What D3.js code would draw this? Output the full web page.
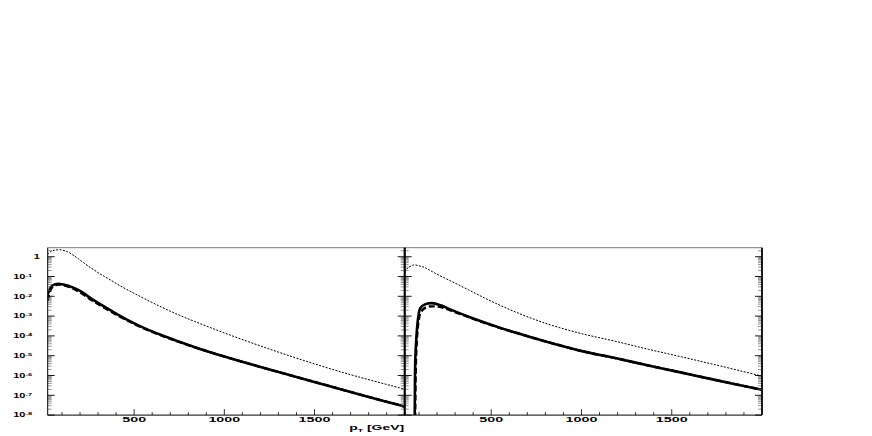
<!DOCTYPE html>
<html>
<head>
<meta charset="utf-8">
<script src="https://cdn.jsdelivr.net/npm/d3@7"></script>
<style>
  body { margin: 0; background: #fff; }
  svg { display: block; }
  text { font-family: "Liberation Sans", Arial, sans-serif; font-weight: bold; fill: #000; }
</style>
</head>
<body>
<svg id="chart" width="872" height="436"></svg>
<script>
// pT grid [GeV] and curves
const ptLeftDotted = [20, 40, 60, 90, 130, 160, 190, 250, 310, 375, 440, 500, 560, 650, 745, 835, 1000, 1185, 1370, 1555, 1740, 2000];
const leftDotted = [1.26, 1.9, 2.14, 2.24, 1.78, 1.23, 0.79, 0.316, 0.138, 0.0617, 0.0275, 0.0141, 7.4e-3, 2.9e-3, 1.17e-3, 5.4e-4, 1.41e-4, 3.47e-5, 9.3e-6, 2.7e-6, 8.7e-7, 2.04e-7];
const ptLeft = [20, 30, 40, 60, 90, 130, 190, 280, 375, 465, 560, 650, 745, 835, 1000, 1185, 1370, 1555, 1740, 2000];
const leftSolid = [0.0118, 0.02, 0.031, 0.04, 0.042, 0.035, 0.021, 6.0e-3, 1.82e-3, 6.3e-4, 2.4e-4, 1.1e-4, 5.25e-5, 2.7e-5, 9.1e-6, 2.95e-6, 1.0e-6, 3.43e-7, 1.17e-7, 2.7e-8];
const leftDashed = [6.0e-3, 0.013, 0.024, 0.036, 0.039, 0.032, 0.018, 5.2e-3, 1.6e-3, 5.8e-4, 2.25e-4, 1.05e-4, 5.15e-5, 2.7e-5, 9.1e-6, 2.95e-6, 1.0e-6, 3.43e-7, 1.17e-7, 2.7e-8];

const ptRightDotted = [20, 40, 70, 110, 140, 190, 283, 375, 467, 559, 652, 744, 836, 1002, 1186, 1371, 1555, 1740, 2000];
const rightDotted = [0.17, 0.28, 0.38, 0.33, 0.26, 0.145, 0.055, 0.021, 7.9e-3, 3.2e-3, 1.38e-3, 6.6e-4, 3.4e-4, 1.29e-4, 5.4e-5, 2.1e-5, 8.7e-6, 3.5e-6, 9.3e-7];
const ptRightSolid = [75, 77, 79, 84, 89, 95, 107, 130, 172, 220, 283, 375, 467, 559, 652, 744, 836, 1002, 1186, 1371, 1555, 1740, 2000];
const rightSolid = [1e-10, 1e-7, 5e-6, 5e-5, 2.4e-4, 8e-4, 2.5e-3, 3.8e-3, 4.5e-3, 3.5e-3, 2.0e-3, 9.3e-4, 4.6e-4, 2.4e-4, 1.32e-4, 7.4e-5, 4.3e-5, 1.7e-5, 7.6e-6, 3.2e-6, 1.4e-6, 6.0e-7, 1.9e-7];
const ptRightDashed = [77, 80, 84, 90, 98, 110, 140, 180, 230, 283, 375, 467, 559, 652, 744, 836, 1002, 1186, 1371, 1555, 1740, 2000];
const rightDashed = [1e-10, 1e-7, 1e-5, 1.2e-4, 6e-4, 1.6e-3, 2.8e-3, 3.1e-3, 2.7e-3, 1.8e-3, 8.8e-4, 4.4e-4, 2.35e-4, 1.32e-4, 7.4e-5, 4.3e-5, 1.7e-5, 7.6e-6, 3.2e-6, 1.4e-6, 6.0e-7, 1.9e-7];

const xTicks = [500, 1000, 1500];
const yDecades = [0, -1, -2, -3, -4, -5, -6, -7, -8];

const svg = d3.select("#chart");
const yTop = 247.7, yBottom = 415.1;
const xDomain = [20.7, 2000];
const yDomain = [1e-8, 2.85];

const y = d3.scaleLog().domain(yDomain).range([yBottom, yTop]);

const panels = [
  { x0: 47.7, x1: 404.7, curves: [
      { pt: ptLeftDotted, v: leftDotted, style: "dotted" },
      { pt: ptLeft, v: leftDashed, style: "dashed" },
      { pt: ptLeft, v: leftSolid, style: "solid" }], labels: true },
  { x0: 404.7, x1: 762, curves: [
      { pt: ptRightDotted, v: rightDotted, style: "dotted" },
      { pt: ptRightDashed, v: rightDashed, style: "dashed" },
      { pt: ptRightSolid, v: rightSolid, style: "solid" }], labels: false }
];

// stretched text, like the wide glyphs of the picture
function wideText(g, x, yy, str, anchor, size, sx) {
  return g.append("text")
    .attr("transform", `translate(${x},${yy}) scale(${sx},1)`)
    .attr("text-anchor", anchor)
    .attr("font-size", size)
    .text(str);
}

panels.forEach((p, i) => {
  const x = d3.scaleLinear().domain(xDomain).range([p.x0, p.x1]);
  const g = svg.append("g");

  g.append("clipPath").attr("id", "clip" + i)
    .append("rect").attr("x", p.x0).attr("y", yTop).attr("width", p.x1 - p.x0).attr("height", yBottom - yTop);

  const line = d3.line()
    .x(d => x(d[0]))
    .y(d => y(Math.max(d[1], 1e-12)))
    .curve(d3.curveCatmullRom.alpha(0.5));

  p.curves.forEach(c => {
    const path = g.append("path")
      .datum(c.pt.map((t, k) => [t, c.v[k]]))
      .attr("clip-path", `url(#clip${i})`)
      .attr("fill", "none")
      .attr("stroke", "#000")
      .attr("d", line);
    if (c.style === "dotted") path.attr("stroke-width", 1).attr("stroke-dasharray", "2,1.4");
    if (c.style === "dashed") path.attr("stroke-width", 2.4).attr("stroke-dasharray", "6,3");
    if (c.style === "solid") path.attr("stroke-width", 2.6);
  });

  // x axis ticks (inside, upward)
  const minor = d3.range(100, 2000, 100);
  g.selectAll(null).data(minor).join("line")
    .attr("x1", d => x(d)).attr("x2", d => x(d))
    .attr("y1", yBottom).attr("y2", d => yBottom - (d % 500 === 0 ? 6 : 3))
    .attr("stroke", "#000").attr("stroke-width", 0.8);

  xTicks.forEach(t => wideText(g, x(t), 422.2, t, "middle", 7, 2.05));

  // y ticks on both sides, pointing inward
  const yMinor = [];
  for (let e = -8; e <= 0; e++) for (let m = 1; m <= 9; m++) {
    const v = m * Math.pow(10, e);
    if (v <= yDomain[1]) yMinor.push({ v, major: m === 1 });
  }
  [[p.x0, 1], [p.x1, -1]].forEach(([ax, dir]) => {
    g.selectAll(null).data(yMinor).join("line")
      .attr("x1", ax).attr("x2", d => ax + dir * (d.major ? 7 : 4))
      .attr("y1", d => y(d.v)).attr("y2", d => y(d.v))
      .attr("stroke", d => d.major ? "#000" : "#666")
      .attr("stroke-width", d => d.major ? 0.9 : 0.7);
  });

  // frame
  g.append("line").attr("x1", p.x0).attr("x2", p.x1).attr("y1", yTop).attr("y2", yTop)
    .attr("stroke", "#555").attr("stroke-width", 0.8);
  g.append("line").attr("x1", p.x0).attr("x2", p.x1).attr("y1", yBottom).attr("y2", yBottom)
    .attr("stroke", "#000").attr("stroke-width", 1);
  g.append("line").attr("x1", p.x0).attr("x2", p.x0).attr("y1", yTop).attr("y2", yBottom)
    .attr("stroke", "#000").attr("stroke-width", i === 0 ? 1 : 1.8);
  g.append("line").attr("x1", p.x1).attr("x2", p.x1).attr("y1", yTop).attr("y2", yBottom)
    .attr("stroke", "#000").attr("stroke-width", 1.8);

  if (p.labels) {
    yDecades.forEach(e => {
      const yy = y(Math.pow(10, e));
      if (e === 0) {
        wideText(g, 40, yy + 2.3, "1", "end", 6.5, 1.7);
      } else {
        wideText(g, 25.5, yy + 2.3, "10", "end", 6.5, 1.7);
        wideText(g, 25.5, yy + 0.2, "-" + (-e), "start", 4.4, 1.7);
      }
    });
    // axis title p_T [GeV]
    const t = g.append("text")
      .attr("transform", `translate(${p.x1 - 0.5},430.3) scale(2,1)`)
      .attr("text-anchor", "end").attr("font-size", 7);
    t.append("tspan").text("p");
    t.append("tspan").attr("font-size", 4.4).attr("dy", 1.5).text("T");
    t.append("tspan").attr("dy", -1.5).text(" [GeV]");
  }
});
</script>
</body>
</html>
